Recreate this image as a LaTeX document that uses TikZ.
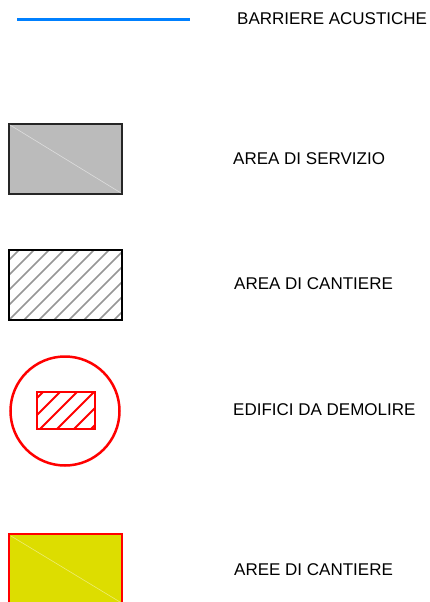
\documentclass[tikz,border=0pt]{standalone}
\usepackage{fontspec}
\setmainfont{Liberation Sans}
\usetikzlibrary{calc}
\definecolor{barrierblue}{RGB}{0,128,255}
\definecolor{servicegray}{RGB}{187,187,187}
\definecolor{siteyellow}{RGB}{221,221,0}
\definecolor{hatchgray}{RGB}{150,150,150}
\tikzset{legendtext/.style={anchor=base west, inner sep=0pt, font=\fontsize{17}{20}\selectfont}}

\begin{document}
\begin{tikzpicture}[x=1pt, y=-1pt]
			%%%%% START %%%%%
			\useasboundingbox (0, 0) rectangle (429, 602);
			
			\draw[line width=3pt, color=barrierblue] (17, 19.5) -- (190, 19.5);
			\node[legendtext] (barriere) at (237, 25) {BARRIERE ACUSTICHE};
			
			\draw[fill=servicegray, draw=black!85, line width=1.2pt] (9, 124) rectangle (122, 194);
			\draw[line width=0.6pt, color=white, opacity=0.5] (10, 125) -- (121, 193);
			\node[legendtext] (servizio) at (233, 164) {AREA DI SERVIZIO};
			
			\begin{scope}
				\clip (9, 250) rectangle (122, 320);
				\foreach \k in {0,...,13}
					\draw[line width=1.5pt, color=hatchgray] ({-66+15*\k}, 320) -- ({4+15*\k}, 250);
			\end{scope}
			\draw[line width=1.3pt] (9, 250) rectangle (122, 320);
			\node[legendtext] (cantiere) at (234, 289) {AREA DI CANTIERE};
			
			\draw[line width=2.5pt, color=red] (65, 411) circle [radius=54.5pt];
			\begin{scope}
				\clip (37, 392) rectangle (95, 429);
				\foreach \k in {0,...,5}
					\draw[line width=1.8pt, color=red] ({6+17*\k}, 429) -- ({43+17*\k}, 392);
			\end{scope}
			\draw[line width=2.2pt, color=red] (37, 392) rectangle (95, 429);
			\node[legendtext] (demolire) at (233, 415) {EDIFICI DA DEMOLIRE};
			
			\draw[fill=siteyellow, draw=red, line width=2.6pt] (9, 534) rectangle (122, 606);
			\draw[line width=0.6pt, color=white, opacity=0.45] (11, 536) -- (120, 602);
			\node[legendtext] (aree) at (234, 575) {AREE DI CANTIERE};
			
			%%%%% END %%%%%
\end{tikzpicture}
\end{document}
